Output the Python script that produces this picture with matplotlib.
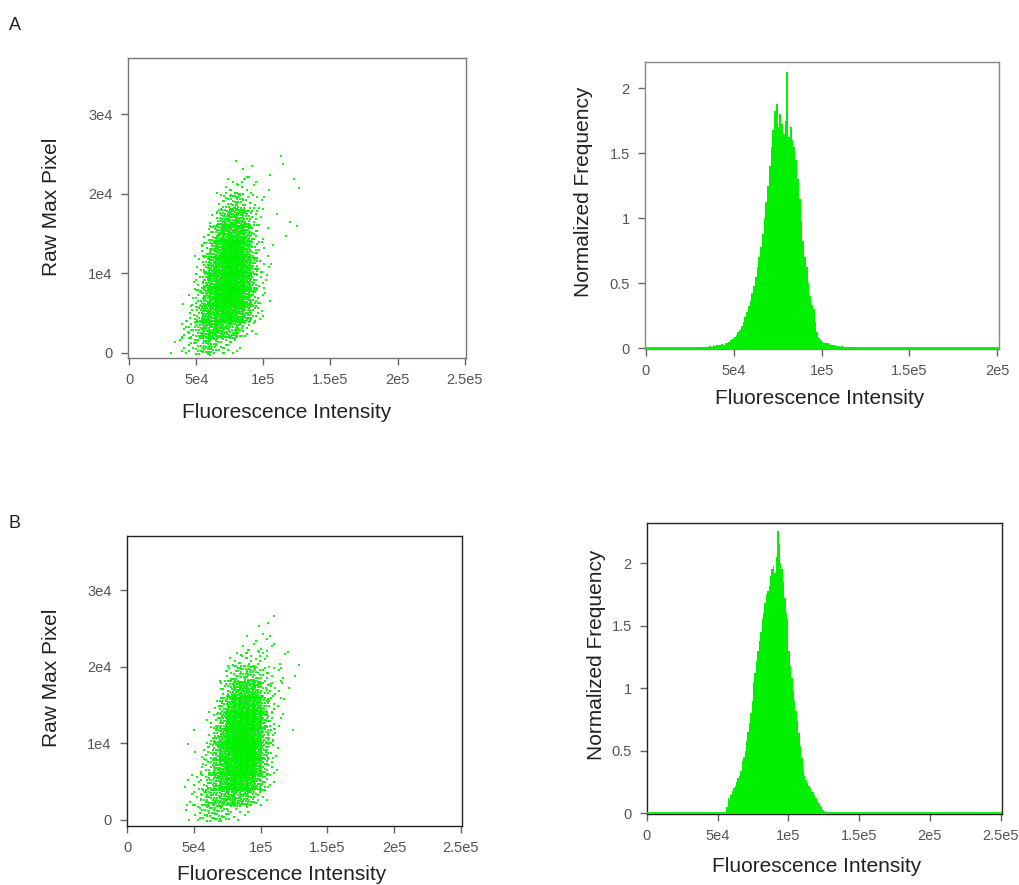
import numpy as np
import matplotlib
matplotlib.use("Agg")
import matplotlib.pyplot as plt

plt.rcParams['font.family'] = ['Liberation Sans', 'DejaVu Sans']

GREEN = '#00f000'

# scatter density: dots per cell
# cells are 5e3 wide in x (starting 30e3) and 2e3 tall in y (starting 0)
cell_x0 = [30, 35, 40, 45, 50, 55, 60, 65, 70, 75, 80, 85, 90, 95, 100, 105, 110, 115, 120, 125, 130]
cell_w = 5e3
cell_h = 2e3

counts_a = [
    [1, 3, 4, 8, 15, 22, 20, 12, 8, 4, 2, 0, 0, 0, 0, 0, 0, 0, 0, 0, 0],
    [0, 2, 5, 10, 22, 35, 40, 38, 30, 25, 18, 8, 3, 0, 0, 0, 0, 0, 0, 0, 0],
    [0, 0, 3, 6, 18, 35, 50, 60, 65, 60, 50, 30, 12, 3, 1, 0, 0, 0, 0, 0, 0],
    [0, 0, 0, 4, 12, 30, 50, 70, 80, 80, 70, 45, 18, 4, 1, 1, 0, 0, 0, 0, 0],
    [0, 0, 0, 2, 8, 25, 45, 70, 85, 90, 75, 50, 20, 5, 2, 0, 0, 0, 0, 0, 0],
    [0, 0, 0, 0, 5, 15, 38, 60, 80, 85, 75, 50, 20, 5, 2, 1, 0, 0, 0, 0, 0],
    [0, 0, 0, 0, 2, 8, 25, 45, 65, 75, 65, 40, 15, 4, 1, 1, 0, 0, 0, 0, 0],
    [0, 0, 0, 0, 0, 4, 12, 30, 45, 55, 50, 32, 12, 3, 1, 0, 0, 1, 0, 1, 0],
    [0, 0, 0, 0, 0, 0, 5, 15, 28, 35, 32, 20, 8, 3, 0, 0, 1, 1, 0, 0, 0],
    [0, 0, 0, 0, 0, 0, 0, 5, 10, 15, 16, 10, 5, 2, 1, 0, 0, 0, 0, 0, 0],
    [0, 0, 0, 0, 0, 0, 0, 0, 3, 5, 6, 4, 2, 1, 1, 0, 0, 0, 1, 1, 0],
    [0, 0, 0, 0, 0, 0, 0, 0, 0, 0, 2, 1, 1, 0, 0, 1, 1, 0, 0, 0, 0],
    [0, 0, 0, 0, 0, 0, 0, 0, 0, 0, 0, 0, 0, 0, 0, 0, 1, 0, 0, 0, 0],
]

counts_b = [
    [0, 0, 0, 2, 6, 12, 15, 15, 12, 8, 5, 3, 1, 0, 0, 0, 0, 0, 0, 0, 0],
    [0, 0, 1, 2, 6, 12, 18, 22, 28, 32, 30, 25, 18, 10, 4, 0, 0, 0, 0, 0, 0],
    [0, 0, 2, 0, 4, 8, 15, 25, 40, 55, 60, 60, 50, 30, 12, 3, 0, 0, 0, 0, 0],
    [0, 0, 0, 1, 0, 6, 12, 25, 45, 65, 80, 85, 75, 45, 18, 5, 1, 0, 0, 0, 0],
    [0, 0, 0, 2, 0, 4, 10, 22, 45, 70, 85, 90, 80, 50, 20, 6, 2, 0, 0, 0, 0],
    [0, 0, 0, 0, 1, 0, 6, 18, 38, 62, 80, 88, 80, 55, 22, 6, 2, 0, 1, 0, 0],
    [0, 0, 0, 0, 0, 0, 3, 10, 28, 50, 68, 78, 72, 50, 22, 8, 3, 0, 0, 0, 0],
    [0, 0, 0, 0, 0, 0, 0, 5, 18, 35, 50, 58, 55, 40, 18, 8, 3, 1, 0, 0, 0],
    [0, 0, 0, 0, 0, 0, 0, 0, 8, 20, 30, 36, 35, 26, 14, 6, 3, 1, 1, 0, 0],
    [0, 0, 0, 0, 0, 0, 0, 0, 2, 8, 14, 18, 18, 14, 8, 4, 2, 2, 1, 1, 0],
    [0, 0, 0, 0, 0, 0, 0, 0, 0, 2, 4, 6, 7, 6, 4, 2, 1, 1, 0, 0, 0],
    [0, 0, 0, 0, 0, 0, 0, 0, 0, 0, 0, 1, 2, 2, 2, 2, 1, 1, 0, 0, 0],
    [0, 0, 0, 0, 0, 0, 0, 0, 0, 0, 0, 0, 0, 1, 1, 1, 0, 0, 0, 0, 0],
    [0, 0, 0, 0, 0, 0, 0, 0, 0, 0, 0, 0, 0, 0, 0, 1, 0, 0, 0, 0, 0],
]

# histogram heights, 1e3 wide bins
hist_a_start = 30
hist_a = [0, 0.005, 0, 0.005, 0.01,
          0.01, 0.015, 0.01, 0.02, 0.015,
          0.02, 0.025, 0.02, 0.03, 0.025,
          0.035, 0.04, 0.05, 0.06, 0.07,
          0.085, 0.1, 0.12, 0.14, 0.17,
          0.2, 0.24, 0.28, 0.32, 0.36,
          0.42, 0.48, 0.55, 0.62, 0.7,
          0.78, 0.88, 1.0, 1.12, 1.25,
          1.4, 1.55, 1.68, 1.82, 1.88,
          1.7, 1.8, 1.72, 1.65, 1.75,
          2.12, 1.62, 1.7, 1.6, 1.55,
          1.45, 1.3, 1.15, 0.98, 0.82,
          0.7, 0.62, 0.5, 0.4, 0.33,
          0.3, 0.2, 0.12, 0.08, 0.06,
          0.05, 0.04, 0.04, 0.035, 0.03,
          0.025, 0.02, 0.02, 0.015, 0.015,
          0.01, 0.012, 0.01, 0.008, 0.006,
          0.005, 0.004, 0.006, 0.004, 0.003,
          0.008, 0.003, 0.002, 0.003, 0.002,
          0.002, 0.003, 0.002, 0.001, 0.002,
          0.003, 0.001, 0, 0.001, 0]

hist_b_start = 55
hist_b = [0.0, 0.05, 0.12, 0.1, 0.15, 0.18, 0.2, 0.22, 0.25, 0.28,
          0.3, 0.34, 0.42, 0.45, 0.5, 0.58, 0.65, 0.72, 0.8, 0.9,
          1.05, 1.12, 1.22, 1.3, 1.38, 1.45, 1.55, 1.6, 1.68, 1.75,
          1.78, 1.82, 1.9, 1.95, 1.98, 1.92, 2.05, 2.26, 2.15, 2.0,
          1.95, 1.85, 1.72, 1.6, 1.55, 1.3, 1.18, 1.08, 0.98, 0.9,
          0.82, 0.74, 0.64, 0.54, 0.44, 0.35, 0.3, 0.27, 0.24, 0.22,
          0.2, 0.18, 0.17, 0.15, 0.12, 0.1, 0.08, 0.06, 0.05, 0.03,
          0.02, 0.01, 0.005]

x_ticks_a = [0, 5e4, 1e5, 1.5e5, 2e5, 2.5e5]
x_labels_a = ['0', '5e4', '1e5', '1.5e5', '2e5', '2.5e5']
y_ticks_sc = [0, 1e4, 2e4, 3e4]
y_labels_sc = ['0', '1e4', '2e4', '3e4']
hist_x_ticks_a = [0, 5e4, 1e5, 1.5e5, 2e5]
hist_x_labels_a = ['0', '5e4', '1e5', '1.5e5', '2e5']
hist_y_ticks = [0, 0.5, 1, 1.5, 2]
hist_y_labels = ['0', '0.5', '1', '1.5', '2']


def cell_points(counts):
    # spread each cell's dots evenly (R2 low discrepancy sequence)
    a1, a2 = 0.7548776662, 0.5698402910
    xs, ys = [], []
    k = 0
    for r, row in enumerate(counts):
        for c, n in enumerate(row):
            for i in range(n):
                k += 1
                u = (0.5 + a1 * k) % 1.0
                v = (0.5 + a2 * k) % 1.0
                xs.append(cell_x0[c] * 1e3 + cell_w * (u * 1.3 - 0.15))
                ys.append(r * cell_h + cell_h * (v * 1.2 - 0.1))
    return np.array(xs), np.array(ys)


def style(ax, frame_color):
    for s in ax.spines.values():
        s.set_color(frame_color)
        s.set_linewidth(1.0)
    ax.tick_params(direction='out', length=5, width=1, color='#666666',
                   labelcolor='#555555', labelsize=10.5, pad=6)


fig = plt.figure(figsize=(10.19, 8.85), dpi=100)

# A scatter
ax1 = fig.add_axes([0.1256, 0.5955, 0.3317, 0.3390])
xa, ya = cell_points(counts_a)
ax1.scatter(xa, ya, s=1.8, marker='s', color=GREEN, linewidths=0, alpha=0.9)
ax1.set_xlim(-800, 2.51e5)
ax1.set_ylim(-630, 37100)
ax1.set_xticks(x_ticks_a, x_labels_a)
ax1.set_yticks(y_ticks_sc, y_labels_sc)
style(ax1, '#777777')

# A histogram
ax2 = fig.add_axes([0.633, 0.6056, 0.3474, 0.3243])
edges_a = (hist_a_start + np.arange(len(hist_a) + 1)) * 1e3
ax2.stairs(hist_a, edges_a, fill=True, color=GREEN, linewidth=0)
ax2.plot([0, 2e5], [0, 0], color=GREEN, lw=2, zorder=3)
ax2.set_xlim(-500, 2.01e5)
ax2.set_ylim(-0.008, 2.2)
ax2.set_xticks(hist_x_ticks_a, hist_x_labels_a)
ax2.set_yticks(hist_y_ticks, hist_y_labels)
style(ax2, '#888888')

# B scatter
ax3 = fig.add_axes([0.1246, 0.0667, 0.3288, 0.3277])
xb, yb = cell_points(counts_b)
ax3.scatter(xb, yb, s=1.8, marker='s', color=GREEN, linewidths=0, alpha=0.9)
ax3.set_xlim(-300, 2.51e5)
ax3.set_ylim(-785, 37100)
ax3.set_xticks(x_ticks_a, x_labels_a)
ax3.set_yticks(y_ticks_sc, y_labels_sc)
style(ax3, '#222222')

# B histogram
ax4 = fig.add_axes([0.6349, 0.0802, 0.3484, 0.3288])
edges_b = (hist_b_start + np.arange(len(hist_b) + 1)) * 1e3
ax4.stairs(hist_b, edges_b, fill=True, color=GREEN, linewidth=0)
ax4.plot([0, 2.5e5], [0, 0], color=GREEN, lw=2, zorder=3)
ax4.set_xlim(0, 2.51e5)
ax4.set_ylim(-0.005, 2.32)
ax4.set_xticks(x_ticks_a, x_labels_a)
ax4.set_yticks(hist_y_ticks, hist_y_labels)
style(ax4, '#222222')

labels = [
    (ax1, 'Raw Max Pixel', (0.47, -0.183), (-0.225, 0.503)),
    (ax2, 'Normalized Frequency', (0.494, -0.171), (-0.175, 0.548)),
    (ax3, 'Raw Max Pixel', (0.462, -0.169), (-0.225, 0.51)),
    (ax4, 'Normalized Frequency', (0.478, -0.181), (-0.142, 0.546)),
]
for ax, ylab, xpos, ypos in labels:
    ax.set_xlabel('Fluorescence Intensity', fontsize=15, color='#222222')
    ax.set_ylabel(ylab, fontsize=15, color='#222222')
    ax.xaxis.label.set_va('center')
    ax.yaxis.label.set_va('center')
    ax.xaxis.set_label_coords(*xpos)
    ax.yaxis.set_label_coords(*ypos)

fig.text(15 / 1019, 1 - 25 / 885, 'A', fontsize=13, va='center', ha='center', color='#222222')
fig.text(15 / 1019, 1 - 523 / 885, 'B', fontsize=13, va='center', ha='center', color='#222222')

fig.savefig('out.png', dpi=100)
